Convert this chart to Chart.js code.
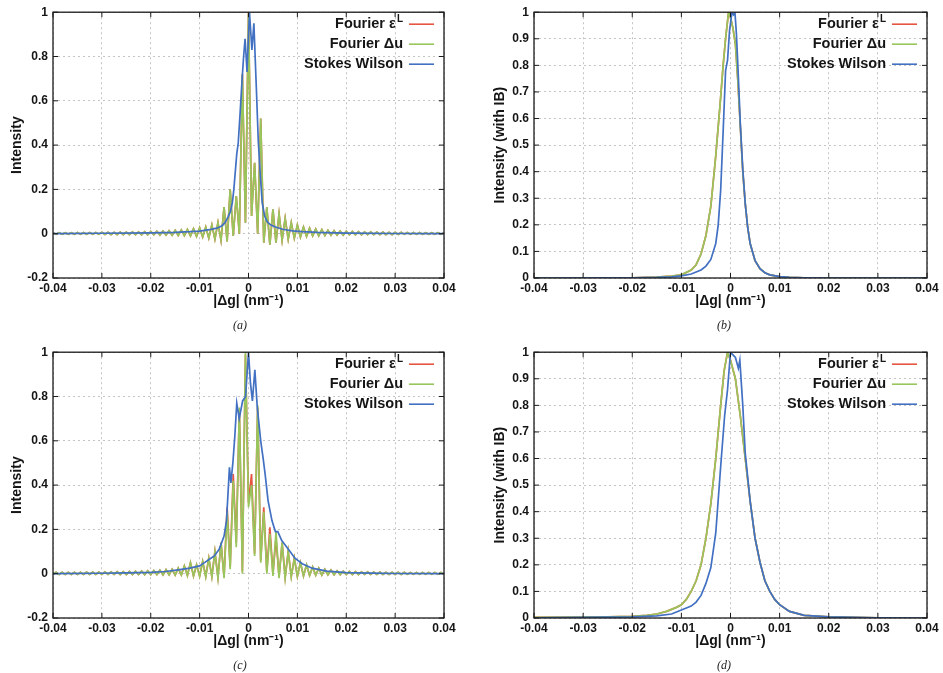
<!DOCTYPE html>
<html>
<head>
  <title>Intensity profiles</title>
  <script src="https://cdn.jsdelivr.net/npm/chart.js"></script>
  <style>
    body { margin: 0; background: #fff; }
    #wrap { position: relative; width: 943px; height: 673px; overflow: hidden; }
    #wrap canvas { position: absolute; }
    .cap { position: absolute; font: italic 12px "Liberation Serif", "DejaVu Serif", serif; color: #222; transform: translate(-50%, -50%); }
  </style>
</head>
<body>
<div id="wrap">
  <canvas id="chartA" width="470" height="320" style="left:0;top:0"></canvas>
  <canvas id="chartB" width="473" height="320" style="left:470px;top:0"></canvas>
  <canvas id="chartC" width="470" height="320" style="left:0;top:340px"></canvas>
  <canvas id="chartD" width="473" height="320" style="left:470px;top:340px"></canvas>
  <div class="cap" style="left:240px;top:325px">(a)</div>
  <div class="cap" style="left:724px;top:325px">(b)</div>
  <div class="cap" style="left:240px;top:665px">(c)</div>
  <div class="cap" style="left:724px;top:665px">(d)</div>
</div>
<script>
// tick values
var xTickValues = [-0.04, -0.03, -0.02, -0.01, 0, 0.01, 0.02, 0.03, 0.04];
var yTicksIntensity = [-0.2, 0, 0.2, 0.4, 0.6, 0.8, 1];
var yTicksWithIB = [0, 0.1, 0.2, 0.3, 0.4, 0.5, 0.6, 0.7, 0.8, 0.9, 1];

var legendNames = ['Fourier ε', 'Fourier Δu', 'Stokes Wilson'];
var legendSup = ['L', '', ''];
var colRed = '#e5553f', colGreen = '#98c65c', colBlue = '#4270c2';

// Fourier curves (a) and (c) are sampled every 0.000625 nm^-1 from -0.04
var fourierStart = -0.04, fourierStep = 0.000625;

var fourierA = [
  0.004,-0.003,0.004,-0.003,0.004,-0.003,0.004,-0.003,0.005,-0.003,0.005,-0.003,0.005,-0.003,0.005,-0.003,
  0.006,-0.003,0.006,-0.004,0.006,-0.004,0.007,-0.004,0.007,-0.004,0.008,-0.004,0.008,-0.005,0.009,-0.005,
  0.010,-0.005,0.011,-0.006,0.012,-0.006,0.013,-0.007,0.015,-0.008,0.017,-0.009,0.019,-0.010,0.022,-0.012,
  0.026,-0.015,0.030,-0.020,0.040,-0.025,0.050,-0.030,0.120,-0.035,0.200,-0.010,0.170,0.000,0.720,0.050,
  1.000,0.080,0.320,0.000,0.520,-0.040,0.120,-0.050,0.110,-0.040,0.090,-0.030,0.070,-0.025,0.050,-0.020,
  0.040,-0.015,0.030,-0.012,0.025,-0.010,0.021,-0.009,0.018,-0.008,0.015,-0.007,0.013,-0.006,0.012,-0.006,
  0.011,-0.005,0.010,-0.005,0.009,-0.005,0.008,-0.004,0.008,-0.004,0.007,-0.004,0.007,-0.004,0.006,-0.004,
  0.006,-0.003,0.006,-0.003,0.005,-0.003,0.005,-0.003,0.005,-0.003,0.004,-0.003,0.004,-0.003,0.004,-0.003,
  0.004
];

var fourierDuC = [
  -0.003,0.006,-0.003,0.006,-0.003,0.006,-0.003,0.006,-0.003,0.006,-0.003,0.007,-0.003,0.007,-0.003,0.007,
  -0.003,0.008,-0.003,0.008,-0.003,0.009,-0.004,0.009,-0.004,0.010,-0.004,0.011,-0.004,0.012,-0.004,0.013,
  -0.004,0.014,-0.004,0.016,-0.005,0.018,-0.005,0.020,-0.006,0.025,-0.006,0.035,-0.008,0.050,-0.010,0.040,
  -0.012,0.055,-0.015,0.070,-0.015,0.100,-0.020,0.140,-0.020,0.280,0.020,0.420,0.120,0.750,0.000,1.000,
  0.300,0.400,0.080,0.760,0.050,0.280,0.000,0.180,-0.010,0.190,-0.020,0.140,-0.020,0.100,-0.015,0.070,
  -0.012,0.050,-0.010,0.040,-0.008,0.030,-0.007,0.025,-0.006,0.020,-0.005,0.016,-0.005,0.013,-0.004,0.011,
  -0.004,0.010,-0.004,0.009,-0.004,0.008,-0.003,0.008,-0.003,0.007,-0.003,0.007,-0.003,0.006,-0.003,0.006,
  -0.003,0.006,-0.003,0.006,-0.003,0.005,-0.003,0.005,-0.003,0.005,-0.003,0.005,-0.003,0.005,-0.003,0.005,
  -0.003
];

var fourierEpsC = [
  -0.003,0.006,-0.003,0.006,-0.003,0.006,-0.003,0.006,-0.003,0.006,-0.003,0.007,-0.003,0.007,-0.003,0.007,
  -0.003,0.008,-0.003,0.008,-0.003,0.009,-0.004,0.009,-0.004,0.010,-0.004,0.011,-0.004,0.012,-0.004,0.013,
  -0.004,0.014,-0.004,0.016,-0.005,0.018,-0.005,0.020,-0.006,0.025,-0.006,0.035,-0.008,0.050,-0.010,0.040,
  -0.010,0.055,-0.012,0.070,-0.012,0.100,-0.015,0.140,-0.015,0.300,0.030,0.450,0.140,0.740,0.010,0.990,
  0.320,0.450,0.090,0.750,0.060,0.300,0.010,0.210,0.000,0.160,-0.015,0.140,-0.015,0.100,-0.012,0.070,
  -0.012,0.050,-0.010,0.040,-0.008,0.030,-0.007,0.025,-0.006,0.020,-0.005,0.016,-0.005,0.013,-0.004,0.011,
  -0.004,0.010,-0.004,0.009,-0.004,0.008,-0.003,0.008,-0.003,0.007,-0.003,0.007,-0.003,0.006,-0.003,0.006,
  -0.003,0.006,-0.003,0.006,-0.003,0.005,-0.003,0.005,-0.003,0.005,-0.003,0.005,-0.003,0.005,-0.003,0.005,
  -0.003
];

// Stokes Wilson (a)
var stokesAX = [-0.04,-0.03,-0.02,-0.015,-0.012,-0.01,-0.008,-0.0065,-0.0055,-0.0048,-0.0042,-0.0037,-0.0033,-0.003,-0.0027,-0.0024,-0.0021,-0.0017,-0.0013,-0.001,-0.0007,-0.0003,0.0002,0.0007,0.0011,0.0016,0.002,0.0024,0.0028,0.0033,0.0038,0.0045,0.0055,0.007,0.009,0.011,0.014,0.02,0.03,0.04];
var stokesAY = [0,0.002,0.004,0.006,0.009,0.012,0.018,0.025,0.035,0.05,0.075,0.1,0.14,0.2,0.28,0.36,0.41,0.55,0.7,0.8,0.88,0.73,1.0,0.83,0.95,0.66,0.42,0.27,0.14,0.08,0.055,0.04,0.03,0.02,0.013,0.009,0.006,0.003,0.001,0];

// Stokes Wilson (c)
var stokesCX = [-0.04,-0.03,-0.025,-0.02,-0.017,-0.014,-0.012,-0.01,-0.009,-0.008,-0.007,-0.006,-0.005,-0.0045,-0.0039,-0.0036,-0.0032,-0.0028,-0.0024,-0.0019,-0.0012,-0.0006,0,0.0004,0.0008,0.0013,0.0018,0.0025,0.003,0.0034,0.004,0.0048,0.0055,0.006,0.0068,0.0075,0.0085,0.0095,0.011,0.013,0.016,0.02,0.025,0.03,0.04];
var stokesCY = [0,0.002,0.004,0.006,0.01,0.018,0.025,0.035,0.05,0.065,0.08,0.11,0.17,0.24,0.48,0.41,0.5,0.62,0.77,0.7,0.78,0.8,1.0,0.86,0.78,0.92,0.75,0.6,0.52,0.45,0.33,0.24,0.19,0.19,0.15,0.13,0.1,0.07,0.045,0.025,0.012,0.005,0.003,0.001,0];

// (b) with instrumental broadening
var fourierBX = [-0.04,-0.02,-0.015,-0.012,-0.01,-0.008,-0.007,-0.006,-0.005,-0.004,-0.003,-0.002,-0.0015,-0.001,-0.0004,0,0.0005,0.001,0.0015,0.002,0.0025,0.003,0.0035,0.004,0.005,0.006,0.007,0.008,0.01,0.012,0.015,0.02,0.04];
var fourierBY = [0,0.001,0.003,0.007,0.012,0.03,0.05,0.09,0.16,0.27,0.46,0.68,0.8,0.9,1.0,0.98,0.94,0.88,0.74,0.57,0.4,0.28,0.19,0.13,0.065,0.035,0.02,0.012,0.005,0.002,0.001,0,0];
var stokesBX = [-0.04,-0.02,-0.015,-0.012,-0.01,-0.008,-0.006,-0.005,-0.004,-0.003,-0.0025,-0.002,-0.0015,-0.001,-0.0006,-0.0002,0.0003,0.0006,0.0009,0.0012,0.0015,0.002,0.0025,0.003,0.0035,0.004,0.005,0.006,0.007,0.008,0.01,0.012,0.015,0.02,0.04];
var stokesBY = [0,0.001,0.002,0.004,0.008,0.015,0.03,0.045,0.07,0.13,0.2,0.33,0.55,0.78,0.82,0.93,1.0,0.99,1.0,0.92,0.8,0.58,0.41,0.28,0.19,0.13,0.065,0.035,0.02,0.012,0.005,0.002,0.001,0,0];

// (d) with instrumental broadening
var fourierDX = [-0.04,-0.03,-0.025,-0.02,-0.017,-0.015,-0.013,-0.011,-0.01,-0.009,-0.008,-0.007,-0.006,-0.005,-0.004,-0.003,-0.002,-0.0013,-0.0006,0,0.001,0.002,0.003,0.004,0.005,0.006,0.007,0.008,0.009,0.01,0.012,0.015,0.02,0.025,0.03,0.04];
var fourierDY = [0.002,0.003,0.004,0.006,0.01,0.015,0.025,0.04,0.05,0.07,0.1,0.14,0.2,0.3,0.43,0.6,0.8,0.93,1.0,0.97,0.9,0.76,0.6,0.44,0.3,0.21,0.14,0.1,0.07,0.05,0.025,0.01,0.004,0.002,0.001,0];
var stokesDX = [-0.04,-0.03,-0.02,-0.015,-0.012,-0.01,-0.008,-0.007,-0.006,-0.005,-0.004,-0.003,-0.002,-0.0012,-0.0006,0,0.0005,0.001,0.0016,0.0019,0.0025,0.003,0.004,0.005,0.006,0.007,0.008,0.009,0.01,0.012,0.015,0.02,0.025,0.03,0.04];
var stokesDY = [0.001,0.002,0.004,0.008,0.015,0.03,0.045,0.06,0.085,0.13,0.19,0.32,0.57,0.76,0.86,1.0,0.99,0.98,0.94,0.97,0.8,0.62,0.44,0.3,0.21,0.14,0.1,0.07,0.05,0.025,0.01,0.004,0.002,0.001,0];

function gridPoints(ys) {
  return ys.map(function(y, i) { return { x: fourierStart + i * fourierStep, y: y }; });
}
function pairPoints(xs, ys) {
  return xs.map(function(x, i) { return { x: x, y: ys[i] }; });
}

var sansFont = '"Liberation Sans", Arial, Helvetica, sans-serif';

// black frame with inward ticks, like gnuplot
var framePlugin = {
  id: 'frame',
  afterDatasetsDraw: function(chart) {
    var ctx = chart.ctx, a = chart.chartArea;
    var sx = chart.scales.x, sy = chart.scales.y;
    ctx.save();
    ctx.strokeStyle = '#1a1a1a';
    ctx.lineWidth = 1.3;
    ctx.strokeRect(a.left, a.top, a.right - a.left, a.bottom - a.top);
    ctx.lineWidth = 1;
    ctx.beginPath();
    sx.ticks.forEach(function(t) {
      var px = sx.getPixelForValue(t.value);
      ctx.moveTo(px, a.bottom); ctx.lineTo(px, a.bottom - 5);
      ctx.moveTo(px, a.top); ctx.lineTo(px, a.top + 5);
    });
    sy.ticks.forEach(function(t) {
      var py = sy.getPixelForValue(t.value);
      ctx.moveTo(a.left, py); ctx.lineTo(a.left + 5, py);
      ctx.moveTo(a.right, py); ctx.lineTo(a.right - 5, py);
    });
    ctx.stroke();
    ctx.restore();
  }
};

// key inside the top right corner
var keyPlugin = {
  id: 'key',
  afterDraw: function(chart) {
    var ctx = chart.ctx, a = chart.chartArea;
    var cols = [colRed, colGreen, colBlue];
    ctx.save();
    ctx.textAlign = 'right';
    ctx.textBaseline = 'middle';
    ctx.fillStyle = '#151515';
    for (var i = 0; i < legendNames.length; i++) {
      var y = a.top + 12 + i * 20;
      var xr = a.right - 41;
      var supW = 0;
      if (legendSup[i]) {
        ctx.font = 'bold 10px ' + sansFont;
        supW = ctx.measureText(legendSup[i]).width + 1;
        ctx.fillText(legendSup[i], xr, y - 5);
      }
      ctx.font = 'bold 14.5px ' + sansFont;
      ctx.fillText(legendNames[i], xr - supW, y);
      ctx.strokeStyle = cols[i];
      ctx.lineWidth = 1.6;
      ctx.beginPath();
      ctx.moveTo(a.right - 35, y);
      ctx.lineTo(a.right - 10, y);
      ctx.stroke();
    }
    ctx.restore();
  }
};

function fmt(v) { return String(Math.round(v * 1000) / 1000); }

function makePanel(id, sets, yMin, yTicks, yTitle, yWidth, yTitlePad, padRight) {
  var tickFont = { family: sansFont, size: 12, weight: 'bold' };
  var titleFont = { family: sansFont, size: 14, weight: 'bold' };
  new Chart(document.getElementById(id), {
    type: 'line',
    data: {
      datasets: [
        { label: 'Stokes Wilson', data: sets[2], borderColor: colBlue, order: 0 },
        { label: 'Fourier Δu', data: sets[1], borderColor: colGreen, order: 1 },
        { label: 'Fourier εL', data: sets[0], borderColor: colRed, order: 2 }
      ]
    },
    options: {
      responsive: false,
      animation: false,
      events: [],
      layout: { padding: { top: 11, right: padRight, left: 0, bottom: 0 } },
      elements: {
        point: { radius: 0 },
        line: { borderWidth: 1.7, tension: 0 }
      },
      plugins: { legend: { display: false }, tooltip: { enabled: false } },
      scales: {
        x: {
          type: 'linear', min: -0.04, max: 0.04,
          afterBuildTicks: function(s) { s.ticks = xTickValues.map(function(v) { return { value: v }; }); },
          afterFit: function(s) { s.height = 42; },
          ticks: { autoSkip: false, maxRotation: 0, padding: 3, color: '#151515', font: tickFont, callback: fmt },
          grid: { color: '#c4c4c4', drawTicks: false, lineWidth: 1 },
          border: { display: false, dash: [2, 3] },
          title: { display: true, text: '|Δg| (nm⁻¹)', color: '#151515', font: titleFont, padding: { top: 0, bottom: 10 } }
        },
        y: {
          type: 'linear', min: yMin, max: 1,
          afterBuildTicks: function(s) { s.ticks = yTicks.map(function(v) { return { value: v }; }); },
          afterFit: function(s) { s.width = yWidth; },
          ticks: { autoSkip: false, padding: 5, color: '#151515', font: tickFont, callback: fmt },
          grid: { color: '#c4c4c4', drawTicks: false, lineWidth: 1 },
          border: { display: false, dash: [2, 3] },
          title: { display: true, text: yTitle, color: '#151515', font: titleFont, padding: { top: yTitlePad, bottom: 0 } }
        }
      }
    },
    plugins: [framePlugin, keyPlugin]
  });
}

makePanel('chartA', [gridPoints(fourierA), gridPoints(fourierA), pairPoints(stokesAX, stokesAY)],
  -0.2, yTicksIntensity, 'Intensity', 53, 9, 26);
makePanel('chartB', [pairPoints(fourierBX, fourierBY), pairPoints(fourierBX, fourierBY), pairPoints(stokesBX, stokesBY)],
  0, yTicksWithIB, 'Intensity (with IB)', 64, 22, 16);
makePanel('chartC', [gridPoints(fourierEpsC), gridPoints(fourierDuC), pairPoints(stokesCX, stokesCY)],
  -0.2, yTicksIntensity, 'Intensity', 53, 9, 26);
makePanel('chartD', [pairPoints(fourierDX, fourierDY), pairPoints(fourierDX, fourierDY), pairPoints(stokesDX, stokesDY)],
  0, yTicksWithIB, 'Intensity (with IB)', 64, 22, 16);
</script>
</body>
</html>
